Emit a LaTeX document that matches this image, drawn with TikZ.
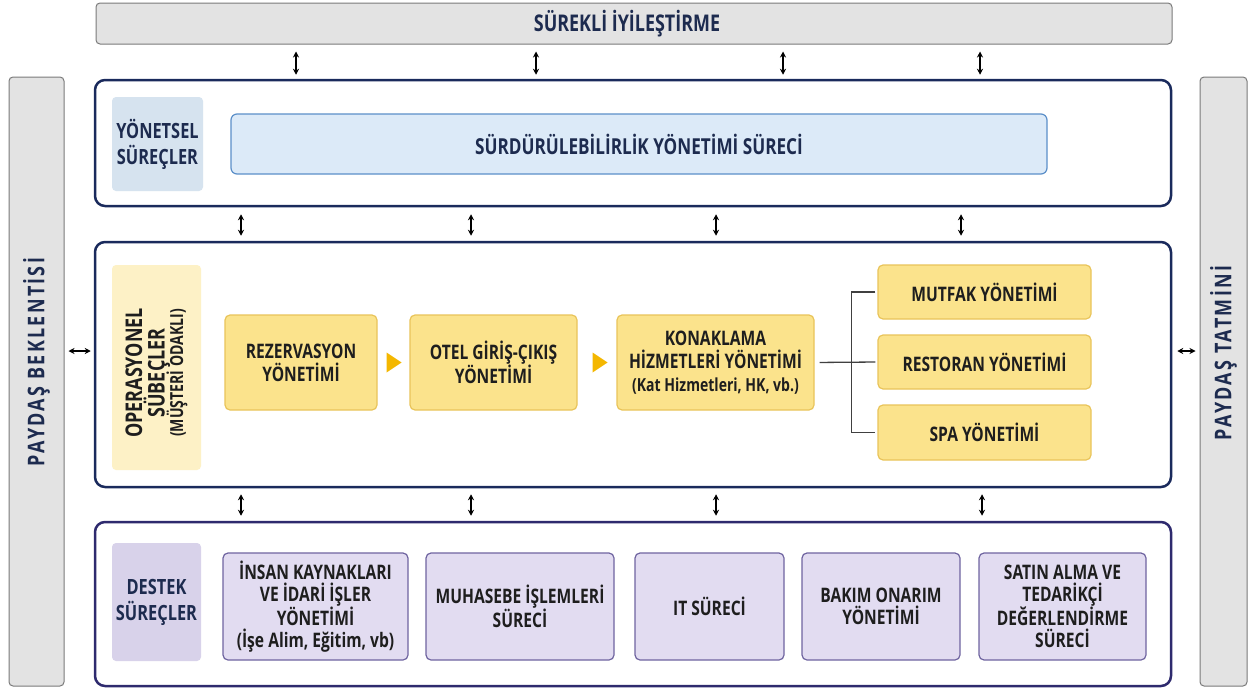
\documentclass[tikz,border=0pt]{standalone}
\usepackage{fontspec}
\setmainfont{Open Sans}[FakeStretch=0.78]
\usetikzlibrary{arrows.meta}
\definecolor{barfill}{HTML}{E3E3E3}
\definecolor{bardraw}{HTML}{7A7A7A}
\definecolor{navy}{HTML}{1A2A5C}
\definecolor{purpnavy}{HTML}{2E2A6E}
\definecolor{ylfill}{HTML}{D6E3EF}
\definecolor{surfill}{HTML}{DCEAF8}
\definecolor{surdraw}{HTML}{5B8FC9}
\definecolor{oplfill}{HTML}{FDF1C6}
\definecolor{yfill}{HTML}{FBE38C}
\definecolor{ydraw}{HTML}{E9C45A}
\definecolor{tricol}{HTML}{F4B700}
\definecolor{dlfill}{HTML}{D8D2EA}
\definecolor{pfill}{HTML}{E2DCF1}
\definecolor{pdraw}{HTML}{6F64A0}
\definecolor{txtnavy}{HTML}{1D2B4F}
\definecolor{txtdark}{HTML}{1E1E1E}
\tikzset{
  bar/.style={draw=bardraw, fill=barfill, line width=1pt, rounded corners=4pt, inner sep=0pt},
  frame/.style={draw=navy, line width=2.5pt, rounded corners=10pt, fill=white, inner sep=0pt},
  pframe/.style={frame, draw=purpnavy},
  lab/.style={rounded corners=4pt, inner sep=0pt, align=center, text=txtnavy, font=\bfseries\fontsize{21}{26}\selectfont},
  ybox/.style={draw=ydraw, fill=yfill, line width=1.2pt, rounded corners=5pt, inner sep=0pt, align=center, text=txtdark, font=\bfseries\fontsize{20}{23}\selectfont},
  pbox/.style={draw=pdraw, fill=pfill, line width=1.2pt, rounded corners=5pt, inner sep=0pt, align=center, text=txtdark, font=\bfseries\fontsize{20}{21.5}\selectfont},
  dar/.style={{Stealth[length=6pt,width=6pt]}-{Stealth[length=6pt,width=6pt]}, line width=1.4pt, black},
  br/.style={line width=1.3pt, draw=black!75},
  tri/.style={fill=tricol},
  bartext/.style={text=txtnavy, font=\bfseries\fontsize{23}{26}\selectfont\addfontfeature{LetterSpace=10}}
}
\begin{document}
\begin{tikzpicture}[x=1pt,y=-1pt]
\useasboundingbox (0,0) rectangle (1259,688);
% side and top bars
\node[bar, minimum width=1076pt, minimum height=41pt] (top) at (634,23.5) {};
\node[text=txtnavy, font=\bfseries\fontsize{23}{26}\selectfont] (toptext) at (627,23.5) {SÜREKLİ İYİLEŞTİRME};
\node[bar, minimum width=55pt, minimum height=609pt] (lbar) at (36.5,381.5) {};
\node[bartext, rotate=90] (ltext) at (36.5,362) {PAYDAŞ BEKLENTİSİ};
\node[bar, minimum width=47pt, minimum height=609pt] (rbar) at (1223.5,381.5) {};
\node[bartext, rotate=90] (rtext) at (1223.5,353) {PAYDAŞ TATMİNİ};
% frames
\node[frame, minimum width=1076pt, minimum height=126pt] (yon) at (633,143) {};
\node[frame, minimum width=1076pt, minimum height=245pt] (op) at (633,364.5) {};
\node[pframe, minimum width=1076pt, minimum height=164pt] (dst) at (633,604) {};
% yonetsel
\node[lab, fill=ylfill, minimum width=91pt, minimum height=94pt] (yl) at (157.5,144) {YÖNETSEL\\SÜREÇLER};
\node[draw=surdraw, fill=surfill, line width=1.2pt, rounded corners=6pt, minimum width=816pt, minimum height=60pt, text=txtnavy, font=\bfseries\fontsize{22}{26}\selectfont] (sur) at (639,144) {SÜRDÜRÜLEBİLİRLİK YÖNETİMİ SÜRECİ};
% operasyonel
\node[lab, fill=oplfill, minimum width=89pt, minimum height=205pt] (opl) at (156.5,367.5) {};
\node[rotate=90, align=center, text=txtdark, font=\bfseries\fontsize{23}{22.5}\selectfont] (opltext) at (156.5,373) {OPERASYONEL\\SÜBEÇLER\\[-4pt]{\fontsize{18}{18}\selectfont (MÜŞTERİ ODAKLI)}};
\node[ybox, minimum width=152pt, minimum height=95pt] (rez) at (301,362.5) {REZERVASYON\\YÖNETİMİ};
\node[ybox, minimum width=167pt, minimum height=95pt] (otel) at (493.5,362.5) {OTEL GİRİŞ-ÇIKIŞ\\YÖNETİMİ};
\node[ybox, minimum width=197pt, minimum height=95pt] (kon) at (715.5,362.5) {KONAKLAMA\\HİZMETLERİ YÖNETİMİ\\{\fontsize{18}{23}\selectfont (Kat Hizmetleri, HK, vb.)}};
\node[ybox, minimum width=213pt, minimum height=54pt] (mut) at (984.5,292) {MUTFAK YÖNETİMİ};
\node[ybox, minimum width=213pt, minimum height=54pt] (res) at (984.5,362) {RESTORAN YÖNETİMİ};
\node[ybox, minimum width=213pt, minimum height=55pt] (spa) at (984.5,432.5) {SPA YÖNETİMİ};
\fill[tri] ([xshift=9pt,yshift=10pt]rez.east) -- ++(15,10) -- ++(-15,10) -- cycle;
\fill[tri] ([xshift=15pt,yshift=10pt]otel.east) -- ++(15,10) -- ++(-15,10) -- cycle;
\draw[br, shorten <=5pt, shorten >=2pt] (kon.east) -- (res.west);
\draw[br] ([xshift=-2pt]mut.west) -- ++(-24,0) |- ([xshift=-2pt]spa.west);
% destek
\node[lab, fill=dlfill, minimum width=89pt, minimum height=118pt] (dl) at (156.5,602) {DESTEK\\SÜREÇLER};
\node[pbox, minimum width=185pt, minimum height=107pt] (ins) at (315.5,606.5) {İNSAN KAYNAKLARI\\VE İDARİ İŞLER\\YÖNETİMİ\\(İşe Alim, Eğitim, vb)};
\node[pbox, minimum width=188pt, minimum height=107pt] (muh) at (520,606.5) {MUHASEBE İŞLEMLERİ\\SÜRECİ};
\node[pbox, minimum width=149pt, minimum height=107pt] (it) at (709.5,606.5) {IT SÜRECİ};
\node[pbox, minimum width=158pt, minimum height=107pt] (bak) at (881,606.5) {BAKIM ONARIM\\YÖNETİMİ};
\node[pbox, minimum width=167pt, minimum height=107pt] (sat) at (1062.5,606.5) {SATIN ALMA VE\\TEDARİKÇİ\\DEĞERLENDİRME\\SÜRECİ};
% vertical arrows
\foreach \x in {296,536,783,980}
  \draw[dar, shorten <=7pt, shorten >=4pt] (top.south -| \x,0) -- (yon.north -| \x,0);
\foreach \x in {241,471,716,961}
  \draw[dar, shorten <=7pt, shorten >=5pt] (yon.south -| \x,0) -- (op.north -| \x,0);
\foreach \x in {241,471,716,982}
  \draw[dar, shorten <=6pt, shorten >=5pt] (op.south -| \x,0) -- (dst.north -| \x,0);
% horizontal arrows
\draw[dar, shorten <=4pt, shorten >=3pt] (lbar.east |- 0,351) -- (op.west |- 0,351);
\draw[dar, shorten <=5pt, shorten >=4pt] (op.east |- 0,351) -- (rbar.west |- 0,351);
\end{tikzpicture}
\end{document}
